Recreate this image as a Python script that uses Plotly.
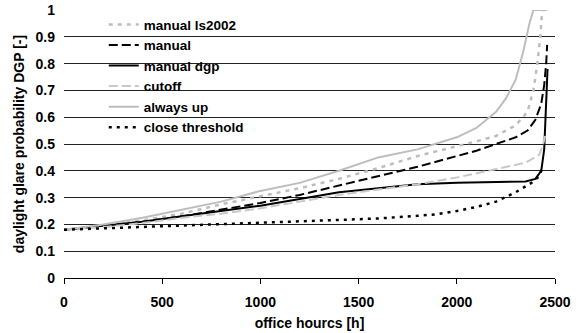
import plotly.graph_objects as go

# Office hours (sorted) and daylight glare probability for each blind strategy
hours_always_up = [0, 200, 400, 600, 800, 1000, 1200, 1400, 1600, 1800, 2000, 2100, 2200, 2250, 2300, 2340, 2370, 2390, 2460]
dgp_always_up = [0.18, 0.20, 0.225, 0.255, 0.285, 0.325, 0.355, 0.40, 0.45, 0.48, 0.525, 0.56, 0.62, 0.67, 0.74, 0.85, 0.95, 1.0, 1.0]

hours_ls2002 = [0, 200, 400, 600, 800, 1000, 1200, 1400, 1600, 1800, 2000, 2100, 2200, 2300, 2360, 2390, 2410, 2425, 2435, 2460]
dgp_ls2002 = [0.18, 0.195, 0.215, 0.24, 0.275, 0.305, 0.335, 0.37, 0.41, 0.455, 0.49, 0.51, 0.53, 0.57, 0.62, 0.70, 0.80, 0.90, 1.0, 1.0]

hours_manual = [0, 200, 400, 600, 800, 1000, 1200, 1400, 1600, 1800, 2000, 2100, 2200, 2300, 2360, 2400, 2430, 2445, 2455, 2460]
dgp_manual = [0.18, 0.195, 0.21, 0.23, 0.255, 0.28, 0.31, 0.345, 0.38, 0.415, 0.455, 0.475, 0.50, 0.525, 0.55, 0.59, 0.65, 0.72, 0.80, 0.87]

hours_dgp = [0, 200, 400, 600, 800, 1000, 1200, 1400, 1600, 1800, 2000, 2200, 2350, 2400, 2430, 2445, 2452, 2458, 2462]
dgp_dgp = [0.18, 0.195, 0.21, 0.23, 0.25, 0.27, 0.295, 0.32, 0.335, 0.35, 0.355, 0.358, 0.36, 0.37, 0.40, 0.48, 0.60, 0.70, 0.78]

hours_cutoff = [0, 200, 400, 600, 800, 1000, 1200, 1400, 1600, 1800, 2000, 2200, 2350, 2420, 2440, 2450]
dgp_cutoff = [0.18, 0.19, 0.205, 0.225, 0.24, 0.26, 0.285, 0.31, 0.33, 0.35, 0.375, 0.405, 0.43, 0.46, 0.50, 0.53]

hours_close = [0, 200, 400, 600, 800, 1000, 1200, 1400, 1600, 1800, 1900, 2000, 2100, 2200, 2300, 2380, 2420, 2440]
dgp_close = [0.18, 0.185, 0.19, 0.195, 0.20, 0.205, 0.21, 0.215, 0.222, 0.232, 0.238, 0.25, 0.265, 0.285, 0.32, 0.355, 0.38, 0.42]

x_ticks = [0, 500, 1000, 1500, 2000, 2500]
y_ticks = [0, 0.1, 0.2, 0.3, 0.4, 0.5, 0.6, 0.7, 0.8, 0.9, 1]
y_tick_text = ["0", "0.1", "0.2", "0.3", "0.4", "0.5", "0.6", "0.7", "0.8", "0.9", "1"]

FONT = "Arial, 'Liberation Sans', sans-serif"

series = [
    ("manual ls2002", hours_ls2002, dgp_ls2002, "#bdbdbd", "4px,5px", 2.5),
    ("manual", hours_manual, dgp_manual, "#000000", "9px,4px", 2),
    ("manual dgp", hours_dgp, dgp_dgp, "#000000", "solid", 2),
    ("cutoff", hours_cutoff, dgp_cutoff, "#c8c8c8", "9px,4px", 2),
    ("always up", hours_always_up, dgp_always_up, "#bdbdbd", "solid", 2),
    ("close threshold", hours_close, dgp_close, "#000000", "3px,5px", 2.5),
]

fig = go.Figure()
for name, xs, ys, color, dash, width in series:
    fig.add_trace(go.Scatter(
        x=xs, y=ys, mode="lines", name=name,
        line=dict(color=color, dash=dash, width=width),
    ))

# white panel behind the legend, hiding the grid but not the curves
fig.add_shape(type="rect", xref="paper", yref="paper",
              x0=0.0285, x1=0.454, y0=0.515, y1=0.993,
              fillcolor="white", line=dict(width=0), layer="between")

fig.update_layout(
    width=578, height=333,
    margin=dict(l=64, r=23, t=10, b=55, autoexpand=False),
    paper_bgcolor="white", plot_bgcolor="white",
    font=dict(family=FONT, size=14, color="black", weight="bold"),
    showlegend=True,
    legend=dict(
        x=0.081, y=1.003, xanchor="left", yanchor="top",
        bgcolor="rgba(0,0,0,0)", borderwidth=0,
        font=dict(family=FONT, size=13.5, color="black", weight="bold"),
        traceorder="normal",
    ),
    xaxis=dict(
        range=[0, 2500], tickvals=x_ticks, showgrid=False, zeroline=False,
        showline=True, linecolor="black", linewidth=1,
        ticks="outside", ticklen=5, tickcolor="black", ticklabelstandoff=6,
        title=dict(text="office hourcs [h]", standoff=9,
                   font=dict(family=FONT, size=14, weight="bold")),
    ),
    yaxis=dict(
        range=[0, 1], tickvals=y_ticks, ticktext=y_tick_text,
        showgrid=True, gridcolor="#222222", gridwidth=1, zeroline=False,
        showline=False, ticks="", ticklabelstandoff=8,
        title=dict(text="daylight glare probability DGP [-]", standoff=7,
                   font=dict(family=FONT, size=14, weight="bold")),
    ),
)

fig.write_html("out.html")
